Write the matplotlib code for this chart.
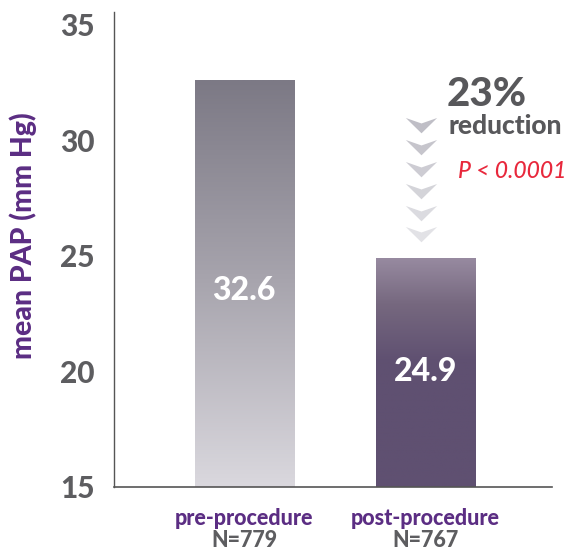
import numpy as np
import matplotlib
matplotlib.use("Agg")
import matplotlib.pyplot as plt
from matplotlib.colors import LinearSegmentedColormap
from matplotlib.path import Path

categories = ["pre-procedure", "post-procedure"]
n_labels = ["N=779", "N=767"]
mean_pap = [32.6, 24.9]
reduction_text = "23%"
p_text = "P < 0.0001"

purple = "#5b2d83"
gray_txt = "#5d5d60"
heavy = 900

plt.rcParams["font.family"] = ["Lato", "DejaVu Sans"]
plt.rcParams["font.weight"] = heavy

fig = plt.figure(figsize=(5.68, 5.5), dpi=100)
ax = fig.add_axes([114 / 568, 1 - 487 / 550, (552 - 114) / 568, (487 - 12) / 550])

x = np.arange(len(categories))
bars = ax.bar(x, mean_pap, width=0.545, bottom=0, color="none", edgecolor="none", zorder=2)

ax.set_ylim(15, 35.56)
ax.set_xlim(-0.716, 1.695)

# gradient fills clipped to each bar
cmaps = [
    LinearSegmentedColormap.from_list("pre", [(0, "#dad8de"), (0.5, "#a8a5ae"), (1, "#7c7985")]),
    LinearSegmentedColormap.from_list("post", [(0, "#5f5071"), (0.55, "#5f5071"), (0.8, "#76687f"), (1, "#978aa0")]),
]
grad = np.linspace(0, 1, 256).reshape(-1, 1)
for b, cm in zip(bars, cmaps):
    x0, w, h = b.get_x(), b.get_width(), b.get_height()
    im = ax.imshow(grad, cmap=cm, origin="lower", aspect="auto",
                   extent=[x0, x0 + w, 15, h], zorder=2)
    im.set_clip_path(b)

# value labels inside the bars
label_y = [23.5, 20.0]
for xi, v, ly in zip(x, mean_pap, label_y):
    ax.text(xi, ly, f"{v:.1f}", ha="center", va="center", color="white",
            fontsize=23, fontweight=heavy, zorder=3)

# chevrons indicating the reduction
chev = Path([(-1, 0.48), (0, 0.13), (1, 0.48), (0, -0.5), (-1, 0.48)],
            [Path.MOVETO, Path.LINETO, Path.LINETO, Path.LINETO, Path.CLOSEPOLY])
chev_y = np.linspace(30.67, 25.93, 6)
chev_cols = LinearSegmentedColormap.from_list("chev", ["#bfbec6", "#e2e2e6"])(np.linspace(0, 1, 6))
for cy, cc in zip(chev_y, chev_cols):
    ax.plot([0.975], [cy], marker=chev, markersize=22.5, color=cc, markeredgewidth=0, zorder=1)

fig.text(447 / 568, 1 - 94 / 550, reduction_text, ha="left", va="center",
         fontsize=29, fontweight=heavy, color="#58585b")
fig.text(449 / 568, 1 - 126 / 550, "reduction", ha="left", va="center",
         fontsize=19, fontweight=heavy, color="#58585b")
fig.text(458 / 568, 1 - 171 / 550, p_text, ha="left", va="center",
         fontsize=16.5, fontweight=500, style="italic", color="#e8283c")

# axes styling
for s in ["top", "right"]:
    ax.spines[s].set_visible(False)
ax.spines["left"].set_color("#555555")
ax.spines["bottom"].set_color("#555555")
ax.spines["left"].set_linewidth(1.0)
ax.spines["bottom"].set_linewidth(1.2)

ax.set_yticks([15, 20, 25, 30, 35])
ax.tick_params(axis="y", length=0, pad=14, labelsize=21.5, labelcolor=gray_txt)
for t in ax.get_yticklabels():
    t.set_fontweight(heavy)
ax.set_ylabel("mean PAP (mm Hg)", fontsize=20.5, fontweight=heavy, color=purple)
ax.yaxis.set_label_coords(-0.176, 0.53)

ax.set_xticks(x)
ax.set_xticklabels(categories, fontweight=heavy)
ax.tick_params(axis="x", length=0, pad=15, labelsize=15.5, labelcolor=purple)
trans = ax.get_xaxis_transform()
for xi, nl in zip(x, n_labels):
    ax.text(xi, -0.126, nl, transform=trans, ha="center", va="baseline",
            fontsize=15.5, fontweight=heavy, color=gray_txt)

fig.savefig("out.png", dpi=100)
